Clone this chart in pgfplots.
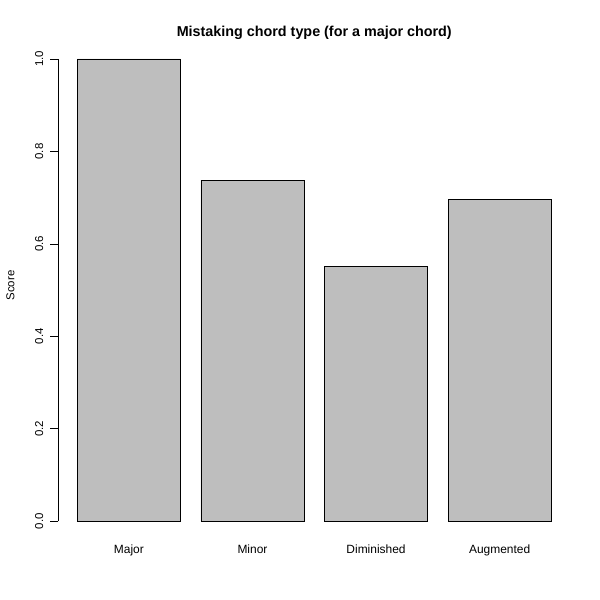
\documentclass[border=0pt]{standalone}
\usepackage{pgfplots}
\pgfplotsset{compat=1.18}
\usepackage{fontspec}
\setmainfont{Liberation Sans}
\definecolor{rgrey}{HTML}{BEBEBE}
\begin{document}
\begin{tikzpicture}
\useasboundingbox (0,0) rectangle (600bp,600bp);
\begin{axis}[
  at={(58.4bp,78.7bp)}, anchor=south west,
  scale only axis, width=511.7bp, height=462.3bp,
  xmin=0.016, xmax=4.984, ymin=0, ymax=1,
  clip=false,
  axis x line*=bottom, axis y line*=left,
  x axis line style={draw=none},
  y axis line style={-, black, line width=0.75bp},
  xtick={0.7,1.9,3.1,4.3},
  xticklabels={Major,Minor,Diminished,Augmented},
  xtick style={draw=none},
  xticklabel style={font=\fontsize{12}{14}\selectfont, anchor=base, inner sep=0pt, yshift=-24.5bp},
  ytick={0,0.2,0.4,0.6,0.8,1},
  tick align=outside, major tick length=8bp,
  ytick style={black, line width=0.75bp},
  yticklabel style={font=\fontsize{11.5}{13}\selectfont, xshift=-7bp, rotate=90, anchor=south, inner sep=0pt},
  /pgf/number format/assume math mode=true,
  yticklabel={\pgfmathprintnumber[fixed, fixed zerofill, precision=1]{\tick}},
  ylabel={Score},
  ylabel style={font=\fontsize{11.5}{13}\selectfont, at={(axis description cs:-0.0935,0.51)}, anchor=center},
  title={Mistaking chord type (for a major chord)},
  title style={font=\fontsize{14.4}{16}\bfseries, at={(axis description cs:0.5,1)}, anchor=base, yshift=17bp},
  ybar, bar width=1,
]
\addplot[fill=rgrey, draw=black, line width=0.75bp] coordinates {
  (0.7,1.0) (1.9,0.738) (3.1,0.551) (4.3,0.696)
};
\end{axis}
\end{tikzpicture}
\end{document}
